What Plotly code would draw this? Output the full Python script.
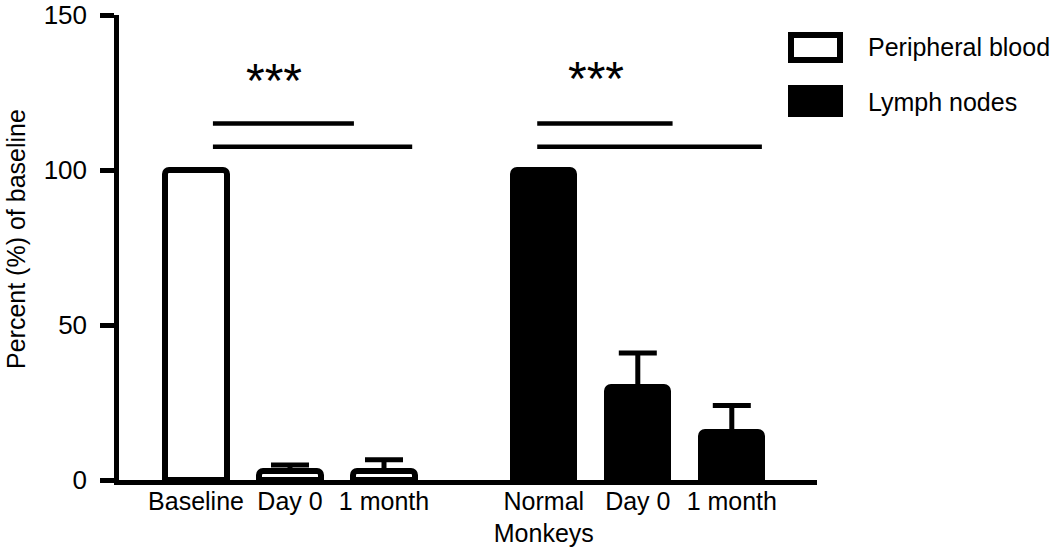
import plotly.graph_objects as go

# ---- data ----
pb_labels = ["Baseline", "Day 0", "1 month"]
pb_values = [100, 3, 3]
pb_errors = [0, 1.8, 3.5]

ln_labels = ["Normal<br>Monkeys", "Day 0", "1 month"]
ln_values = [100, 30, 15.5]
ln_errors = [0, 11, 8.5]

pb_pos = [0, 1, 2]
ln_pos = [3.7, 4.7, 5.7]

y_title = "Percent (%) of baseline"

FONT = "Liberation Sans, Arial, sans-serif"

fig = go.Figure()
fig.add_trace(go.Bar(
    x=pb_pos, y=pb_values, width=0.65, name="Peripheral blood",
    marker=dict(color="white", line=dict(color="black", width=6), cornerradius=4),
    error_y=dict(type="data", symmetric=False, array=pb_errors,
                 arrayminus=[0, 0, 0], color="black", thickness=5, width=19),
    showlegend=False,
))
fig.add_trace(go.Bar(
    x=ln_pos, y=ln_values, width=0.65, name="Lymph nodes",
    marker=dict(color="black", line=dict(color="black", width=6), cornerradius=4),
    error_y=dict(type="data", symmetric=False, array=ln_errors,
                 arrayminus=[0, 0, 0], color="black", thickness=5, width=19),
    showlegend=False,
))

# plot-area pixel geometry
L, R, T, B = 119, 817, 15, 480
W, H = 1050, 548
px_per_unit = 94.0
x0px = 196.0
xr = [(L - x0px) / px_per_unit, (R - x0px) / px_per_unit]

def px(xp):
    return (xp - L) / (R - L)

def py(yp):
    return (B - yp) / (B - T)

shapes = []
# significance lines (data coords)
for (xa, xb, yv) in [(0.18, 1.68, 115), (0.18, 2.30, 107.5),
                     (3.63, 5.07, 115), (3.63, 6.02, 107.5)]:
    shapes.append(dict(type="line", xref="x", yref="y", x0=xa, x1=xb, y0=yv, y1=yv,
                       line=dict(color="black", width=4.5)))

# legend boxes (paper coords)
shapes.append(dict(type="rect", xref="paper", yref="paper",
                   x0=px(791), x1=px(840), y0=py(60), y1=py(35),
                   line=dict(color="black", width=6), fillcolor="white"))
shapes.append(dict(type="rect", xref="paper", yref="paper",
                   x0=px(788), x1=px(843), y0=py(117), y1=py(85),
                   line=dict(color="black", width=0), fillcolor="black"))

annotations = [
    dict(x=0.83, y=129, xref="x", yref="y", text="***", showarrow=False,
         font=dict(family=FONT, size=48, color="black")),
    dict(x=4.26, y=129.5, xref="x", yref="y", text="***", showarrow=False,
         font=dict(family=FONT, size=48, color="black")),
    dict(x=px(866), y=py(47), xref="paper", yref="paper", text="Peripheral blood",
         showarrow=False, xanchor="left", yanchor="middle",
         font=dict(family=FONT, size=25, color="black")),
    dict(x=px(866), y=py(102), xref="paper", yref="paper", text="Lymph nodes",
         showarrow=False, xanchor="left", yanchor="middle",
         font=dict(family=FONT, size=25, color="black")),
    dict(x=px(16), y=py(239), xref="paper", yref="paper", text=y_title,
         showarrow=False, textangle=-90, xanchor="center", yanchor="middle",
         borderpad=0,
         font=dict(family=FONT, size=25, color="black")),
]

fig.update_layout(
    width=W, height=H,
    margin=dict(l=L, r=W - R, t=T, b=H - B, autoexpand=False),
    plot_bgcolor="white", paper_bgcolor="white",
    font=dict(family=FONT, color="black"),
    shapes=shapes, annotations=annotations,
    bargap=0,
)
fig.update_xaxes(
    range=xr, showgrid=False, zeroline=False,
    showline=True, linecolor="black", linewidth=4.5,
    tickmode="array", tickvals=pb_pos + ln_pos, ticktext=pb_labels + ln_labels,
    ticks="", ticklabelstandoff=-5,
    tickfont=dict(family=FONT, size=25, color="black"),
)
fig.update_yaxes(
    range=[0, 150], showgrid=False, zeroline=False,
    showline=True, linecolor="black", linewidth=4.5,
    tickmode="array", tickvals=[0, 50, 100, 150],
    ticks="outside", ticklen=14, tickwidth=4.5, tickcolor="black",
    ticklabelstandoff=8,
    tickfont=dict(family=FONT, size=26, color="black"),
)

fig.write_html(
    "out.html",
    config={"displayModeBar": False},
    post_script="document.body.style.margin='0';document.body.style.overflow='hidden';",
)
